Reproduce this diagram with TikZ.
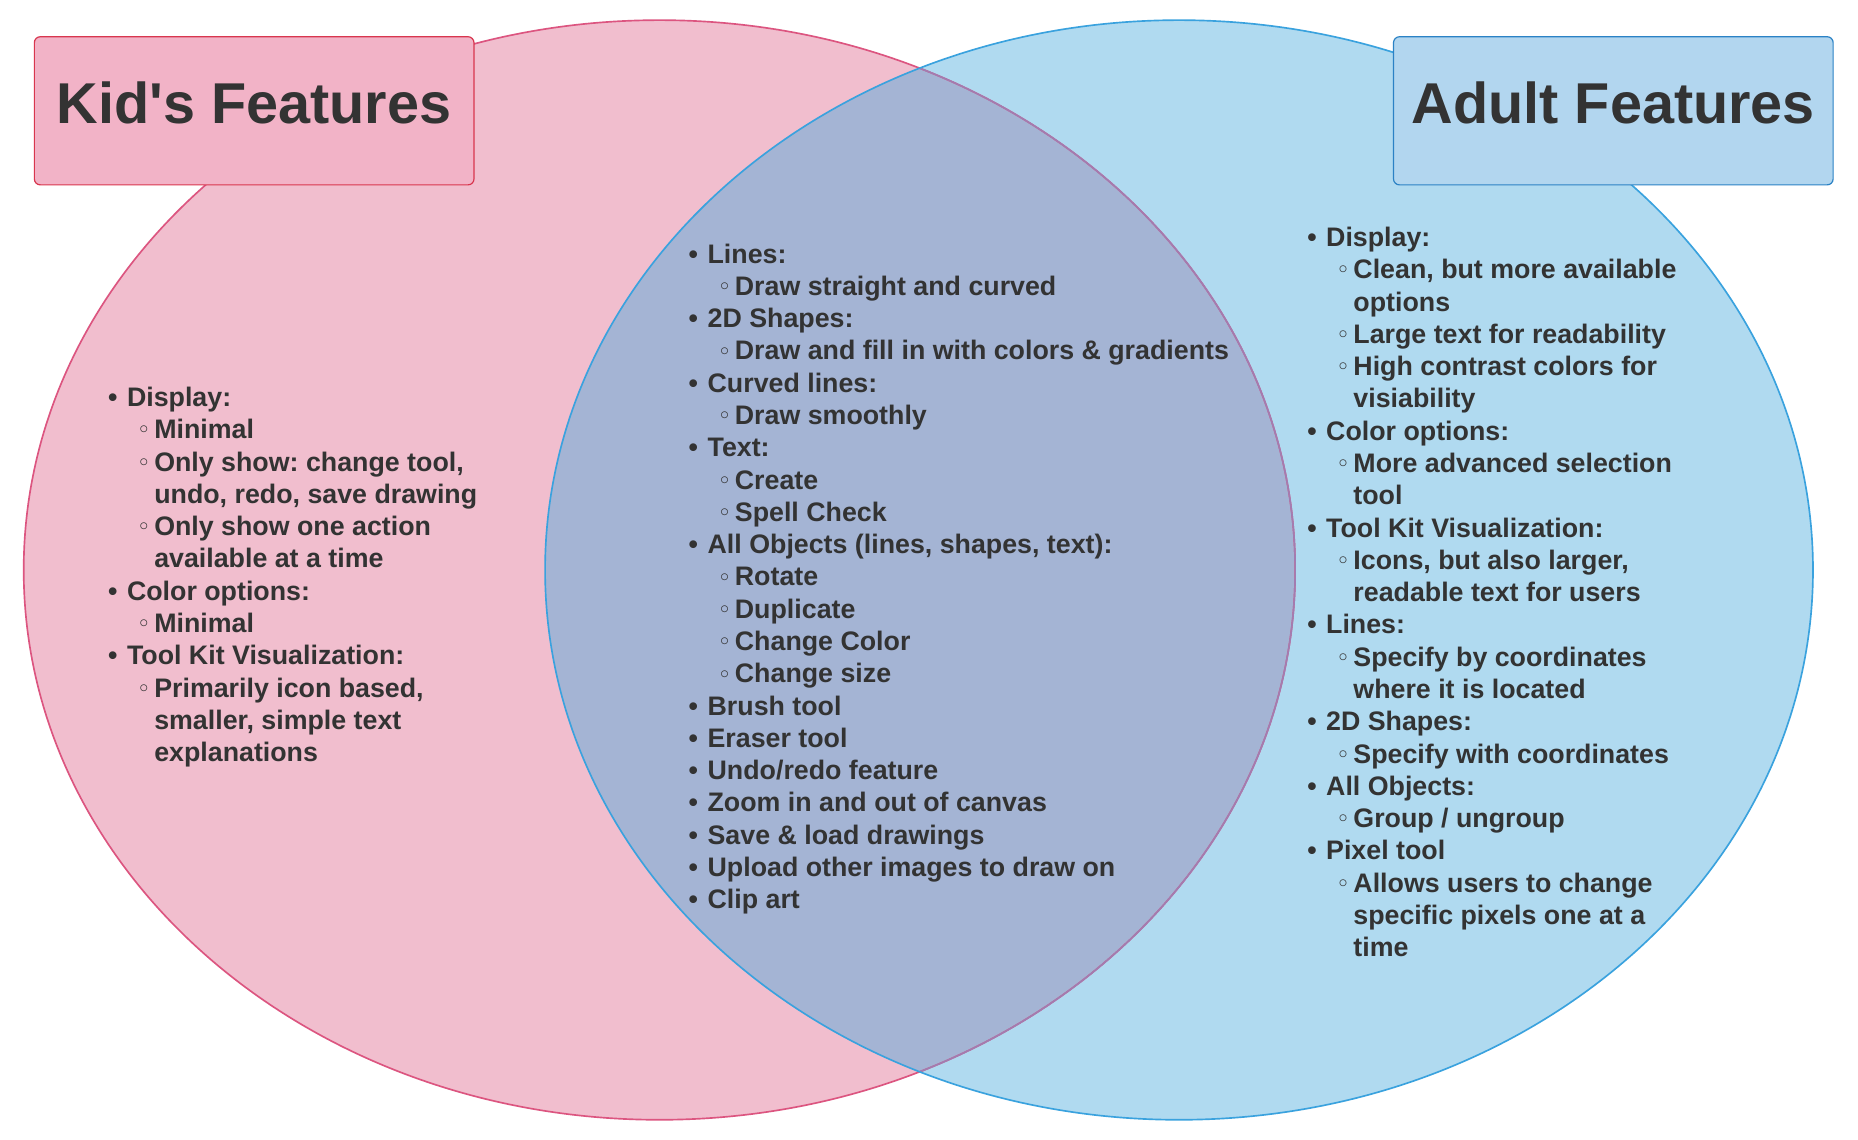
\documentclass[tikz,border=0pt]{standalone}
\usepackage{fontspec}
\setmainfont{Liberation Sans}
\newfontfamily\symfont{DejaVu Sans}
\definecolor{pinkfill}{HTML}{F1BECE}
\definecolor{bluefill}{HTML}{B0DAF0}
\definecolor{overfill}{HTML}{A4B4D4}
\definecolor{pinkline}{HTML}{DC5580}
\definecolor{blueline}{HTML}{3AA2DE}
\definecolor{purpline}{HTML}{A27CB0}
\definecolor{pinkbox}{HTML}{F2B3C7}
\definecolor{pinkboxline}{HTML}{D8364E}
\definecolor{bluebox}{HTML}{B2D6EF}
\definecolor{blueboxline}{HTML}{2B82C5}
\definecolor{txt}{HTML}{333333}
\frenchspacing
\newcommand\ItA[1]{\leavevmode\hbox to 16pt{•\hss}#1\par}
\newcommand\ItB[1]{\leavevmode\hspace*{25pt}\hbox to 14pt{\raisebox{1.5pt}{\symfont\fontsize{16.5}{16.5}\selectfont ◦}\hss}#1\par}
\newcommand\ItC[1]{\leavevmode\hspace*{39pt}#1\par}
\tikzset{
  titlebox/.style={draw, line width=1pt, rounded corners=5pt, minimum width=371pt, minimum height=125pt,
    inner sep=0pt, text height=35pt, text depth=14pt, text=txt,
    font=\fontsize{48.6}{56}\selectfont\bfseries},
  featlist/.style={anchor=base west, inner sep=0pt, text=txt,
    font=\fontsize{22.6}{27.25}\selectfont\bfseries\frenchspacing}
}
\begin{document}
\begin{tikzpicture}[x=1pt,y=-1pt]
\useasboundingbox (0,0) rectangle (1568,962);
\fill[white] (0,0) rectangle (1568,962);
% fills
\fill[pinkfill] (556.5,481) ellipse [x radius=536.5pt, y radius=464pt];
\fill[bluefill] (995,481) ellipse [x radius=535pt, y radius=464pt];
\begin{scope}
  \clip (556.5,481) ellipse [x radius=536.5pt, y radius=464pt];
  \fill[overfill] (995,481) ellipse [x radius=535pt, y radius=464pt];
\end{scope}
% strokes
\draw[pinkline, line width=1.4pt] (556.5,481) ellipse [x radius=536.5pt, y radius=464pt];
\begin{scope}
  \clip (995,481) ellipse [x radius=535pt, y radius=464pt];
  \draw[purpline, line width=1.4pt] (556.5,481) ellipse [x radius=536.5pt, y radius=464pt];
\end{scope}
\draw[blueline, line width=1.4pt] (995,481) ellipse [x radius=535pt, y radius=464pt];
% title boxes
\node[titlebox, fill=pinkbox, draw=pinkboxline] (kidtitle) at (214.5,93.5) {Kid\textquotesingle s Features};
\node[titlebox, fill=bluebox, draw=blueboxline] (adulttitle) at (1361.5,93.5) {Adult Features};
% lists
\node[featlist] (kidlist) at (91,343) {\parbox[t]{500pt}{%
\ItA{Display:}
\ItB{Minimal}
\ItB{Only show: change tool,}
\ItC{undo, redo, save drawing}
\ItB{Only show one action}
\ItC{available at a time}
\ItA{Color options:}
\ItB{Minimal}
\ItA{Tool Kit Visualization:}
\ItB{Primarily icon based,}
\ItC{smaller, simple text}
\ItC{explanations}}};
\node[featlist] (bothlist) at (581,222) {\parbox[t]{520pt}{%
\ItA{Lines:}
\ItB{Draw straight and curved}
\ItA{2D Shapes:}
\ItB{Draw and fill in with colors \& gradients}
\ItA{Curved lines:}
\ItB{Draw smoothly}
\ItA{Text:}
\ItB{Create}
\ItB{Spell Check}
\ItA{All Objects (lines, shapes, text):}
\ItB{Rotate}
\ItB{Duplicate}
\ItB{Change Color}
\ItB{Change size}
\ItA{Brush tool}
\ItA{Eraser tool}
\ItA{Undo/redo feature}
\ItA{Zoom in and out of canvas}
\ItA{Save \& load drawings}
\ItA{Upload other images to draw on}
\ItA{Clip art}}};
\node[featlist] (adultlist) at (1103,208) {\parbox[t]{420pt}{%
\ItA{Display:}
\ItB{Clean, but more available}
\ItC{options}
\ItB{Large text for readability}
\ItB{High contrast colors for}
\ItC{visiability}
\ItA{Color options:}
\ItB{More advanced selection}
\ItC{tool}
\ItA{Tool Kit Visualization:}
\ItB{Icons, but also larger,}
\ItC{readable text for users}
\ItA{Lines:}
\ItB{Specify by coordinates}
\ItC{where it is located}
\ItA{2D Shapes:}
\ItB{Specify with coordinates}
\ItA{All Objects:}
\ItB{Group / ungroup}
\ItA{Pixel tool}
\ItB{Allows users to change}
\ItC{specific pixels one at a}
\ItC{time}}};
\end{tikzpicture}
\end{document}
